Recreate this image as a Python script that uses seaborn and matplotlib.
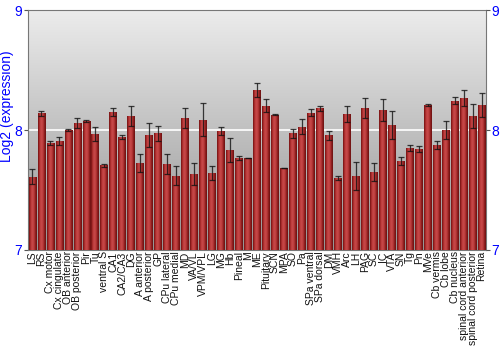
import numpy as np
import pandas as pd
import matplotlib
matplotlib.use("Agg")
import matplotlib.pyplot as plt
import seaborn as sns

regions = ["LS", "RS", "Cx motor", "Cx cingulate", "OB anterior", "OB posterior", "Pir", "Tu",
           "ventral S", "CA1", "CA2/CA3", "DG", "A anterior", "A posterior", "GP", "CPu lateral",
           "CPu medial", "MD", "VA/VL", "VPM/VPL", "LG", "MG", "Hb", "Pineal", "M", "ME",
           "Pituitary", "SCN", "MPA", "SO", "Pa", "SPa ventral", "SPa dorsal", "DM", "VMH", "Arc",
           "LH", "PAG", "SC", "IC", "VTA", "SN", "Tg", "Pn", "MVe", "Cb vermis", "Cb lobe",
           "Cb nucleus", "spinal cord anterior", "spinal cord posterior", "Retina"]
expression = [7.611, 8.139, 7.889, 7.908, 8.000, 8.061, 8.078, 7.967, 7.706, 8.150, 7.942, 8.119,
              7.722, 7.958, 7.972, 7.717, 7.619, 8.103, 7.631, 8.086, 7.642, 7.992, 7.833, 7.767,
              7.767, 8.333, 8.203, 8.128, 7.683, 7.972, 8.028, 8.144, 8.181, 7.956, 7.603, 8.131,
              7.619, 8.186, 7.647, 8.167, 8.044, 7.744, 7.850, 7.842, 8.211, 7.878, 8.000, 8.244,
              8.267, 8.119, 8.211]
error = [0.065, 0.018, 0.017, 0.033, 0.010, 0.040, 0.007, 0.057, 0.014, 0.033, 0.017, 0.085,
         0.075, 0.100, 0.060, 0.085, 0.080, 0.083, 0.090, 0.140, 0.060, 0.035, 0.100, 0.015,
         0.003, 0.058, 0.053, 0.003, 0.003, 0.036, 0.063, 0.030, 0.020, 0.040, 0.017, 0.068,
         0.117, 0.083, 0.075, 0.092, 0.117, 0.033, 0.022, 0.028, 0.008, 0.033, 0.078, 0.030,
         0.067, 0.100, 0.100]
yticks = [7, 8, 9]

df = pd.DataFrame({"region": regions, "expression": expression, "error": error})

sns.set_style("white")
plt.rcParams["font.family"] = ["Liberation Sans", "DejaVu Sans"]
fig = plt.figure(figsize=(5, 3.5), dpi=100)
ax = fig.add_axes([0.056, 0.286, 0.916, 0.685])

ymin, ymax = 7, 9
n = len(regions)

sns.barplot(data=df, x="region", y="expression", color="#b83232", ax=ax,
            width=0.86, errorbar=None, zorder=3, linewidth=0)
ax.set_xlim(-0.5, n - 0.5)
ax.set_ylim(ymin, ymax)

# background gradient (light top, dark bottom)
grad = np.linspace(1, 0, 256).reshape(-1, 1)
bg_cmap = matplotlib.colors.LinearSegmentedColormap.from_list("bg", ["#ececec", "#959595"])
ax.imshow(grad, extent=(-0.5, n - 0.5, ymin, ymax), aspect="auto", cmap=bg_cmap,
          zorder=0, origin="lower")
ax.axhline(8, color="white", lw=1.2, zorder=1)

# cylindrical shading on bars
bar_cmap = matplotlib.colors.LinearSegmentedColormap.from_list(
    "bar", ["#6e1010", "#a82a2a", "#c44444", "#c64848", "#b43636", "#8a1c1c", "#6a1010"])
hgrad = np.linspace(0, 1, 64).reshape(1, -1)
for p in list(ax.patches):
    x0 = p.get_x(); w = p.get_width(); h = p.get_height(); y0 = p.get_y()
    im = ax.imshow(hgrad, extent=(x0, x0 + w, ymin, y0 + h), aspect="auto", cmap=bar_cmap,
                   zorder=3.5, interpolation="bilinear")
    im.set_clip_path(p)
ax.set_xlim(-0.5, n - 0.5)
ax.set_ylim(ymin, ymax)

ax.errorbar(np.arange(n), df["expression"], yerr=df["error"], fmt="none", ecolor="#111111",
            elinewidth=0.9, capsize=2, capthick=0.9, zorder=5, alpha=0.8)

ax.set_xlabel("")
ax.set_ylabel("Log2 (expression)", color="#0000ff", fontsize=10)
ax.yaxis.set_label_coords(-0.03, 0.6)
ax.set_yticks(yticks)
ax.tick_params(axis="y", colors="#0000ff", labelsize=10, length=3, pad=1, color="#555555")
ax.tick_params(axis="x", length=0, pad=1)
ax.set_xticks(range(n))
ax.set_xticklabels(regions, rotation=90, fontsize=7.5, color="#111111")
for s in ax.spines.values():
    s.set_color("#777777")
    s.set_linewidth(0.8)

ax2 = ax.twinx()
ax2.set_ylim(ymin, ymax)
ax2.set_yticks(yticks)
ax2.tick_params(axis="y", colors="#0000ff", labelsize=10, length=3, pad=1, color="#555555")
for s in ax2.spines.values():
    s.set_visible(False)

fig.savefig("out.png", dpi=100)
